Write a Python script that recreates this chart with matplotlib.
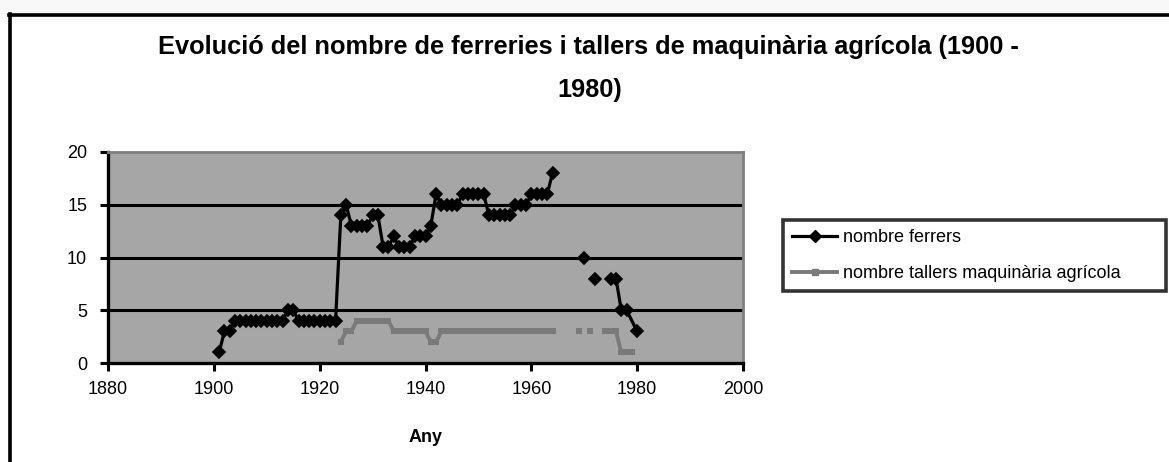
import numpy as np
import matplotlib
matplotlib.use("Agg")
import matplotlib.pyplot as plt
from matplotlib.lines import Line2D

plt.rcParams['font.family'] = ['Liberation Sans', 'DejaVu Sans']

# ---------------- data ----------------
title_line1 = "Evolució del nombre de ferreries i tallers de maquinària agrícola (1900 -"
title_line2 = "1980)"
x_label = "Any"
label_ferrers = "nombre ferrers"
label_tallers = "nombre tallers maquinària agrícola"

x_ticks = [1880, 1900, 1920, 1940, 1960, 1980, 2000]
y_ticks = [0, 5, 10, 15, 20]

ferrers_years = list(range(1901, 1979)) + [1980]
ferrers = [
    1, 3, 3,                                  # 1901-1903
    4, 4, 4, 4, 4, 4, 4, 4, 4, 4,             # 1904-1913
    5, 5,                                     # 1914-1915
    4, 4, 4, 4, 4, 4, 4, 4,                   # 1916-1923
    14, 15,                                   # 1924-1925
    13, 13, 13, 13,                           # 1926-1929
    14, 14,                                   # 1930-1931
    11, 11, 12,                               # 1932-1934
    11, 11, 11,                               # 1935-1937
    12, 12, 12,                               # 1938-1940
    13, 16,                                   # 1941-1942
    15, 15, 15, 15,                           # 1943-1946
    16, 16, 16, 16, 16,                       # 1947-1951
    14, 14, 14, 14, 14,                       # 1952-1956
    15, 15, 15,                               # 1957-1959
    16, 16, 16, 16,                           # 1960-1963
    18,                                       # 1964
    None, None, None, None, None,             # 1965-1969
    10, None, 8, None, None,                  # 1970-1974
    8, 8, 5, 5,                               # 1975-1978
    3,                                        # 1980
]

tallers_years = list(range(1924, 1980))
tallers = [
    2, 3, 3,                                  # 1924-1926
    4, 4, 4, 4, 4, 4, 4,                      # 1927-1933
    3, 3, 3, 3, 3, 3, 3,                      # 1934-1940
    2, 2,                                     # 1941-1942
    3, 3, 3, 3, 3, 3, 3, 3, 3, 3, 3,          # 1943-1953
    3, 3, 3, 3, 3, 3, 3, 3, 3, 3, 3,          # 1954-1964
    None, None, None, None,                   # 1965-1968
    3, None, 3, None, None,                   # 1969-1973
    3, 3, 3,                                  # 1974-1976
    1, 1, 1,                                  # 1977-1979
]

# ---------------- figure ----------------
W, H = 1169, 462
fig = plt.figure(figsize=(W / 100, H / 100), dpi=100)
fig.patch.set_facecolor('white')

def fx(px):
    return px / W

def fy(py):
    return 1 - py / H

# light strip above the chart border
fig.add_artist(plt.Rectangle((0, fy(14)), 1, 1 - fy(14), transform=fig.transFigure,
                             facecolor='#F8F8F8', edgecolor='none', zorder=0))
# outer chart border (top and left)
fig.add_artist(Line2D([fx(9), fx(W)], [fy(15), fy(15)], color='black', lw=2.6))
fig.add_artist(Line2D([fx(10), fx(10)], [fy(14), fy(H)], color='black', lw=2.6))

ax = fig.add_axes([fx(108), fy(363), fx(743) - fx(108), fy(152) - fy(363)])
ax.set_facecolor('#A6A6A6')

fy_vals = np.array([np.nan if v is None else v for v in ferrers], dtype=float)
ty_vals = np.array([np.nan if v is None else v for v in tallers], dtype=float)

ax.plot(tallers_years, ty_vals, color='#7A7A7A', lw=2.8, marker='s',
        markersize=4.5, markeredgewidth=0, zorder=3)
ax.plot(ferrers_years, fy_vals, color='black', lw=2.3, marker='D',
        markersize=6.3, markeredgewidth=1.2, markeredgecolor='black', zorder=4)

ax.set_xlim(1880, 2000)
ax.set_ylim(0, 20)
ax.set_xticks(x_ticks)
ax.set_yticks(y_ticks)
ax.set_xticklabels([str(t) for t in x_ticks])
ax.set_yticklabels([str(t) for t in y_ticks])
for yv in y_ticks[1:-1]:
    ax.axhline(yv, color='black', lw=2.2, zorder=2)

for s in ['left', 'bottom']:
    ax.spines[s].set_color('black')
    ax.spines[s].set_linewidth(2.4)
for s in ['top', 'right']:
    ax.spines[s].set_color('#7F7F7F')
    ax.spines[s].set_linewidth(2.0)

ax.tick_params(direction='out', length=6, width=2.2, colors='black',
               labelsize=13)
ax.tick_params(axis='y', pad=9)
ax.tick_params(axis='x', pad=7)

ax.set_xlabel(x_label, fontsize=13, fontweight='bold', labelpad=22)

fig.text(fx(588), fy(47), title_line1, ha='center', va='center',
         fontsize=18.3, fontweight='bold')
fig.text(fx(590), fy(90), title_line2, ha='center', va='center',
         fontsize=18.3, fontweight='bold')

h1 = Line2D([], [], color='black', lw=2.3, marker='D', markersize=6.3)
h2 = Line2D([], [], color='#7A7A7A', lw=2.8, marker='s', markersize=4.5)
leg = fig.legend([h1, h2], [label_ferrers, label_tallers],
                 loc='upper left',
                 bbox_to_anchor=(fx(783), fy(288), fx(1166) - fx(783), fy(220) - fy(288)),
                 mode='expand', borderaxespad=0, fontsize=13,
                 handlelength=2.5, handletextpad=0.3, labelspacing=1.05,
                 borderpad=0.5, fancybox=False, frameon=True)
leg.get_frame().set_edgecolor('black')
leg.get_frame().set_linewidth(2.6)

fig.savefig('out.png', dpi=100)
